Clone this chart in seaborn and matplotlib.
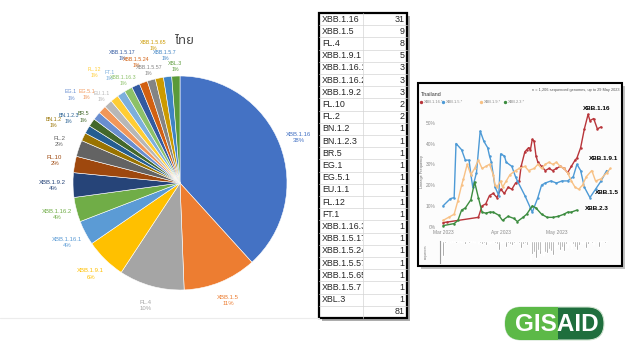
import numpy as np
import pandas as pd
import matplotlib
matplotlib.use("Agg")
import matplotlib.pyplot as plt
import seaborn as sns
from matplotlib.patches import Rectangle, FancyBboxPatch

W, H = 628, 353

# --- Lineage counts (pie + table)
lineages = ["XBB.1.16", "XBB.1.5", "FL.4", "XBB.1.9.1", "XBB.1.16.1", "XBB.1.16.2",
            "XBB.1.9.2", "FL.10", "FL.2", "BN.1.2", "BN.1.2.3", "BR.5", "EG.1",
            "EG.5.1", "EU.1.1", "FL.12", "FT.1", "XBB.1.16.3", "XBB.1.5.17",
            "XBB.1.5.24", "XBB.1.5.57", "XBB.1.5.65", "XBB.1.5.7", "XBL.3"]
counts = [31, 9, 8, 5, 3, 3, 3, 2, 2, 1, 1, 1, 1, 1, 1, 1, 1, 1, 1, 1, 1, 1, 1, 1]
pie_colors = ["#4472C4", "#ED7D31", "#A5A5A5", "#FFC000", "#5B9BD5", "#70AD47",
              "#264478", "#9E480E", "#636363", "#997300", "#255E91", "#43682B",
              "#698ED0", "#F1975A", "#B7B7B7", "#FFCD33", "#7CAFDD", "#8CC168",
              "#335AA1", "#D26012", "#848484", "#CC9A00", "#3F83C4", "#5A9A3A"]

# --- Thailand lineage frequency (days since 1 Mar 2023, percent)
red_days = [0, 2, 19, 21, 23, 25, 27, 29, 31, 33, 35, 37, 39, 41, 42, 44, 45, 46, 47, 48,
            49, 50, 51, 53, 55, 57, 59, 61, 63, 65, 67, 69, 71, 72, 74, 76, 78, 79, 81, 83, 85]
red_vals = [2, 2.2, 4.5, 10, 11, 15, 16, 14, 18, 16, 19, 18, 21, 22, 29, 36, 37, 38, 37, 42,
            41, 34, 31, 29, 27, 28, 27, 28, 29, 28, 26, 29, 32, 33, 38, 47, 54, 51, 52, 47, 48]
blue_days = [0, 4, 6, 7, 10, 12, 14, 15, 16, 18, 20, 22, 24, 25, 26, 28, 30, 31, 33, 34,
             37, 39, 40, 44, 47, 48, 51, 53, 55, 58, 61, 64, 67, 70, 72, 74, 76, 79, 82, 85, 88]
blue_vals = [10, 13.5, 14, 40, 37, 32, 32, 25, 19, 26, 46, 41, 38, 34, 31, 19, 15, 35, 34, 31,
             29, 24, 22, 15, 9, 7, 14, 20, 21, 22, 21, 22, 22, 24, 30, 27, 19, 14, 18, 22, 27]
orange_days = [0, 3, 6, 8, 10, 11, 13, 15, 17, 19, 21, 23, 25, 27, 28, 29, 31, 32, 34, 36,
               39, 41, 44, 46, 49, 51, 53, 55, 57, 59, 61, 63, 65, 67, 69, 71, 73, 75, 77, 80,
               82, 85, 88, 90]
orange_vals = [3, 4.5, 6, 12.5, 20, 23, 30, 25, 28, 32, 28, 29, 30, 25, 20, 19, 22, 19, 22, 25,
               27, 28, 29, 27, 28, 30, 28, 30, 31, 30, 31, 29, 28, 26, 22, 19, 18, 20, 24, 27,
               22, 23, 26, 28]
green_days = [0, 6, 8, 10, 12, 15, 17, 19, 21, 23, 25, 27, 30, 32, 35, 38, 40, 43, 45, 48,
              50, 53, 56, 59, 62, 65, 67, 69, 72]
green_vals = [0.5, 1.5, 3, 8, 9, 13, 21.5, 14, 7, 6.5, 7, 7, 5.5, 3, 5, 4, 2.5, 4.5, 6, 10,
              9, 6, 4.5, 4.5, 5, 6, 7, 7, 8]
series_names = ["XBB.1.16.*", "XBB.1.5.*", "XBB.1.9.*", "XBB.2.3.*"]
series_colors = ["#b8353a", "#4d9ad6", "#f8c185", "#3c8c3f"]

# daily sequenced genomes (bars under the chart)
seq_counts = [14, 2, 1, 1, 2, 1, 1, 2, 1, 1,
              2, 1, 3, 1, 2, 1, 1, 2, 1, 3,
              2, 3, 2, 4, 2, 3, 2, 1, 2, 3,
              8, 3, 2, 1, 5, 2, 3, 4, 2, 3,
              1, 2, 6, 3, 2, 4, 3, 18, 12, 10,
              15, 8, 12, 9, 14, 10, 11, 7, 9, 13,
              8, 6, 4, 8, 5, 9, 3, 6, 4, 7,
              3, 5, 8, 4, 2, 3, 2, 6, 3, 1,
              2, 4, 1, 2, 5, 1, 0, 2, 0, 1]
month_ticks = [0, 31, 61]
month_labels = ["Mar 2023", "Apr 2023", "May 2023"]


def fig_rect(x0, y0, x1, y1):
    # pixel box (top-left origin) -> figure fraction
    return [x0 / W, 1 - y1 / H, (x1 - x0) / W, (y1 - y0) / H]


sns.set_theme(style="white")
plt.rcParams['font.family'] = ['Liberation Sans', 'DejaVu Sans']

fig = plt.figure(figsize=(W / 100, H / 100), dpi=100)
bg = fig.add_axes([0, 0, 1, 1])
bg.set_xlim(0, W)
bg.set_ylim(H, 0)
bg.axis('off')

# ---------------- Pie chart ----------------
bg.plot([0, 319], [318, 318], color='#ececec', lw=0.8)
bg.text(184, 40, "ไทย", fontsize=9.5, fontweight='bold', color='#4d4d4d', ha='center', va='center',
        family=['Noto Sans Thai', 'Noto Sans', 'DejaVu Sans'])

pie_ax = fig.add_axes(fig_rect(73, 76, 287, 290))
wedges, _ = pie_ax.pie(counts, colors=pie_colors, startangle=90, counterclock=False,
                       wedgeprops=dict(edgecolor='white', linewidth=0.4))
pie_ax.set_xlim(-1, 1)
pie_ax.set_ylim(-1, 1)
total = sum(counts)
tiers = [1.31, 1.2, 1.09]
for k, (w, name, n, col) in enumerate(zip(wedges, lineages, counts, pie_colors)):
    ang = np.deg2rad((w.theta1 + w.theta2) / 2)
    # small slices: three label rings so the crowded labels stay readable
    r = 1.19 if n > 1 else tiers[k % 3]
    pie_ax.text(r * np.cos(ang), r * np.sin(ang),
                f"{name}\n{round(n / total * 100)}%", ha='center', va='center',
                fontsize=4.3 if n > 1 else 3.8, color=col, linespacing=1.3)

# ---------------- Table ----------------
tab_l, tab_m, tab_r = 319, 363, 407
tab_t, row_h = 13, 12.2
n_rows = len(lineages) + 1
tab_b = tab_t + n_rows * row_h
bg.add_patch(Rectangle((tab_l + 2.5, tab_t + 2.5), tab_r - tab_l, tab_b - tab_t,
                       facecolor='#8a8a8a', edgecolor='none', alpha=0.7))
bg.add_patch(Rectangle((tab_l, tab_t), tab_r - tab_l, tab_b - tab_t,
                       facecolor='white', edgecolor='none'))
for i in range(1, n_rows):
    bg.plot([tab_l, tab_r], [tab_t + i * row_h] * 2, color='#d4d4d4', lw=0.5)
bg.plot([tab_m, tab_m], [tab_t, tab_b], color='#d4d4d4', lw=0.5)
bg.add_patch(Rectangle((tab_l, tab_t), tab_r - tab_l, tab_b - tab_t,
                       facecolor='none', edgecolor='black', lw=1.6))

name_ax = fig.add_axes(fig_rect(tab_l, tab_t, tab_m - 0.5, tab_b))
name_ax.set_xlim(tab_l, tab_m - 0.5)
name_ax.set_ylim(tab_b, tab_t)
name_ax.axis('off')
for i, name in enumerate(lineages):
    name_ax.text(tab_l + 3, tab_t + (i + 0.5) * row_h, name, fontsize=6.4, color='#262626',
                 va='center', ha='left', clip_on=True)
for i, n in enumerate(counts + [total]):
    bg.text(tab_r - 2.5, tab_t + (i + 0.5) * row_h, str(n), fontsize=6.4, color='#262626',
            va='center', ha='right')

# ---------------- Embedded outbreak chart ----------------
bg.add_patch(Rectangle((420.5, 85.5), 204, 183, facecolor='#9a9a9a', edgecolor='none', alpha=0.6))
bg.add_patch(Rectangle((418, 83), 204, 183, facecolor='#fcfcfc', edgecolor='black', lw=1.5))

bg.text(421, 94, "Thailand", fontsize=3.8, color='#333333', ha='left', va='center')
bg.text(620, 90, "n = 1,206 sequenced genomes, up to 29 May 2023", fontsize=2.8,
        color='#555555', ha='right', va='center')
for lx, name, col in zip([421, 443, 481, 505], series_names, series_colors):
    bg.scatter([lx], [102], s=2, color=col, zorder=3)
    bg.text(lx + 2.5, 102, name, fontsize=2.8, color='#888888', ha='left', va='center')
bg.text(422, 172, "Lineage Frequency", fontsize=2.8, color='#666666', rotation=90,
        ha='center', va='center')

freq = pd.concat([
    pd.DataFrame({"day": red_days, "freq": red_vals, "lineage": series_names[0]}),
    pd.DataFrame({"day": blue_days, "freq": blue_vals, "lineage": series_names[1]}),
    pd.DataFrame({"day": orange_days, "freq": orange_vals, "lineage": series_names[2]}),
    pd.DataFrame({"day": green_days, "freq": green_vals, "lineage": series_names[3]}),
])

px_day = 1.86
x_left, x_right = (437 - 443) / px_day, (621 - 443) / px_day
px_pct = 2.08
lc = fig.add_axes(fig_rect(437, 112, 621, 229))
sns.lineplot(data=freq, x="day", y="freq", hue="lineage", hue_order=series_names,
             palette=series_colors, marker='o', markersize=1.8, markeredgewidth=0,
             linewidth=1.0, legend=False, ax=lc)
lc.set_xlim(x_left, x_right)
lc.set_ylim(-(229 - 226.7) / px_pct, 50 + (122.7 - 112) / px_pct)
lc.set_facecolor('none')
for s in lc.spines.values():
    s.set_visible(False)
lc.set_yticks([0, 10, 20, 30, 40, 50])
lc.set_yticklabels([f"{v}%" for v in [0, 10, 20, 30, 40, 50]])
lc.set_xticks(month_ticks)
lc.set_xticklabels(month_labels)
lc.tick_params(labelsize=3.5, colors='#8a8a8a', length=0, pad=1)
lc.set_xlabel("")
lc.set_ylabel("")

for txt, tx, ty in [("XBB.1.16", 597, 108), ("XBB.1.9.1", 604, 159),
                    ("XBB.1.5", 607, 192), ("XBB.2.3", 597, 208)]:
    bg.text(tx, ty, txt, fontsize=4.6, fontweight='bold', color='black', ha='center', va='center')

bc = fig.add_axes(fig_rect(440, 241, 621, 263))
bc.bar(range(len(seq_counts)), seq_counts, width=0.9, color='#7d7d7d')
bc.set_xlim((440 - 443) / px_day, x_right)
bc.set_ylim(20, 0)
bc.set_facecolor('none')
for k, s in bc.spines.items():
    s.set_visible(k == 'left')
bc.spines['left'].set_color('#9c9c9c')
bc.spines['left'].set_linewidth(0.8)
bc.set_xticks([])
bc.set_yticks([])
bg.text(426, 252, "sequences", fontsize=2.2, color='#777777', rotation=90, ha='center', va='center')

# ---------------- GISAID logo ----------------
pill = FancyBboxPatch((505, 307), 99, 33, boxstyle="round,pad=0,rounding_size=16.5",
                      facecolor='#1f6e3d', edgecolor='#cfe3cf', lw=0.8)
bg.add_patch(pill)
left_half = Rectangle((505, 307), 53, 33, facecolor='#5cb947', edgecolor='none')
bg.add_patch(left_half)
left_half.set_clip_path(pill)
bg.text(557, 324.5, "GISAID", fontsize=17.5, fontweight='bold', color='white',
        ha='center', va='center')

fig.savefig("out.png", dpi=100)
